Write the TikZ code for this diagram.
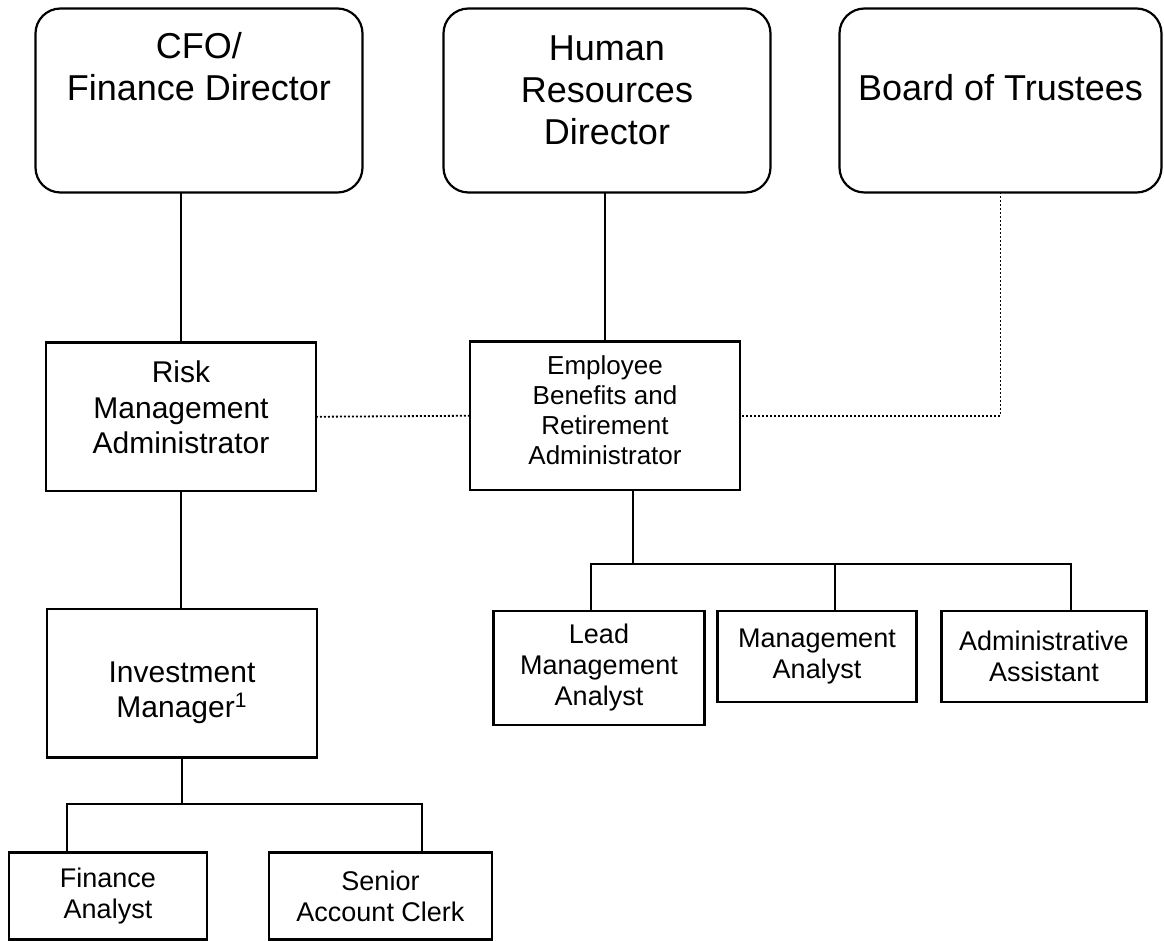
\documentclass[tikz,border=0pt]{standalone}
\usepackage{fontspec}
\setmainfont{Liberation Sans}
\usetikzlibrary{positioning}
\tikzstyle{every node}=[outer sep=0pt]
\tikzstyle{head}=[draw,rounded corners=12.5pt,line width=1.1pt,align=center,minimum width=163.5pt,minimum height=92pt,font=\fontsize{18}{21}\selectfont]
\tikzstyle{post}=[draw,line width=1.1pt,align=center,minimum width=135pt,minimum height=74.25pt,font=\fontsize{15}{17.75}\selectfont]
\tikzstyle{staff}=[draw,line width=1.1pt,align=center,font=\fontsize{13.5}{15.5}\selectfont]
\tikzstyle{link}=[line width=1pt]
\tikzstyle{dotlink}=[line width=0.9pt,dash pattern=on 0.9pt off 1.1pt]
\newcommand{\padbelow}[1]{\rule[-#1]{0pt}{#1}}
\newcommand{\padabove}[1]{\rule{0pt}{#1}}

\begin{document}
\begin{tikzpicture}
    \useasboundingbox (-99.5pt,50.25pt) rectangle (482.5pt,-420.25pt);
    \clip (-99.5pt,50.25pt) rectangle (482.5pt,-420.25pt);
    % top row
    \node[head] (cfo) at (0,0) {CFO/\\Finance Director\padbelow{34pt}};
    \node[head, right=40.5pt of cfo] (hr) {Human\\Resources\\Director\padbelow{10pt}};
    \node[head, right=34.5pt of hr, minimum width=161pt] (board) {Board of Trustees\padbelow{13.5pt}};
    % administrators
    \node[post, below=75pt of cfo, xshift=-9pt] (risk) {Risk\\Management\\Administrator\padbelow{9.5pt}};
    \node[post, below=74.5pt of hr, xshift=-1pt, font=\fontsize{13}{15}\selectfont] (emp) {Employee\\Benefits and\\Retirement\\Administrator\padbelow{6pt}};
    \node[post, below=59pt of risk, xshift=0.5pt] (inv) {\padabove{20pt}Investment\\Manager\textsuperscript{1}};
    % staff
    \node[staff, below=60.5pt of emp, xshift=-3pt, minimum width=105.5pt, minimum height=57pt] (lead) {Lead\\Management\\Analyst};
    \node[staff, right=6.5pt of lead.north east, anchor=north west, minimum width=99.5pt, minimum height=45.5pt] (mgmt) {Management\\Analyst};
    \node[staff, right=12.5pt of mgmt.north east, anchor=north west, minimum width=102.5pt, minimum height=45.5pt] (admin) {Administrative\\Assistant};
    \node[staff, below=47.5pt of inv.south west, anchor=north west, xshift=-19pt, minimum width=99pt, minimum height=43.5pt] (fin) {Finance\\Analyst};
    \node[staff, right=31pt of fin.north east, anchor=north west, minimum width=111.5pt, minimum height=43.5pt] (senior) {Senior\\Account Clerk};
    % bus points
    \coordinate (empdrop) at ([xshift=81.5pt]emp.south west);
    \coordinate (empbus) at ([yshift=-37pt]empdrop);
    \coordinate (leaddrop) at ([xshift=48.5pt]lead.north west);
    \coordinate (mgmtdrop) at ([xshift=58.5pt]mgmt.north west);
    \coordinate (admindrop) at ([xshift=64.5pt]admin.north west);
    \coordinate (invbus) at ([yshift=-23.5pt]inv.south);
    \coordinate (findrop) at ([xshift=29pt]fin.north west);
    \coordinate (srdrop) at ([xshift=76.5pt]senior.north west);
    % lines
    \draw[link] (risk.north |- cfo.south) -- (risk.north);
    \draw[link] (emp.north |- hr.south) -- (emp.north);
    \draw[link] (risk.south) -- (risk.south |- inv.north);
    \draw[dotlink] (risk.east) -- (emp.west);
    \draw[dotlink] (board.south) |- (emp.east);
    \draw[link] (empdrop) -- (empbus);
    \draw[link] (leaddrop) |- (empbus) -| (admindrop);
    \draw[link] (mgmtdrop) -- (mgmtdrop |- empbus);
    \draw[link] (inv.south) -- (invbus);
    \draw[link] (findrop) |- (invbus) -| (srdrop);
\end{tikzpicture}
\end{document}
